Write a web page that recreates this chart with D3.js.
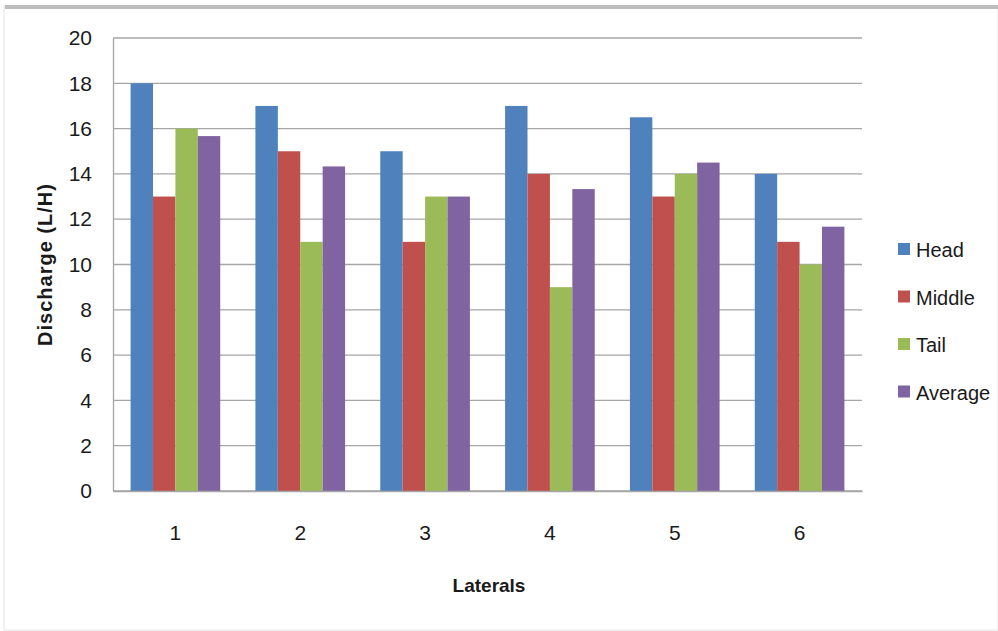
<!DOCTYPE html>
<html>
<head>
<meta charset="utf-8">
<script src="https://cdn.jsdelivr.net/npm/d3@7"></script>
<style>
  html, body { margin: 0; padding: 0; background: #fff; }
  svg text { font-family: "Liberation Sans", Arial, sans-serif; fill: #1a1a1a; }
</style>
</head>
<body>
<svg id="chart" width="998" height="631"></svg>
<script>
// Discharge per lateral, measured at head, middle and tail of each lateral
const laterals = ["1", "2", "3", "4", "5", "6"];
const seriesNames = ["Head", "Middle", "Tail", "Average"];
const head    = [18, 17, 15, 17, 16.5, 14];
const middle  = [13, 15, 11, 14, 13, 11];
const tail    = [16, 11, 13, 9, 14, 10];
const average = [15.67, 14.33, 13, 13.33, 14.5, 11.67];
const yTicks  = [0, 2, 4, 6, 8, 10, 12, 14, 16, 18, 20];
const colors  = ["#4F81BD", "#C0504D", "#9BBB59", "#8064A2"];

const seriesValues = [head, middle, tail, average];
const rows = laterals.map((lat, i) => ({
  lateral: lat,
  values: seriesNames.map((name, s) => ({ name, value: seriesValues[s][i] }))
}));

const svg = d3.select("#chart");
const W = 998, H = 631;

// outer frame with a shaded top edge
svg.append("rect").attr("x", 4).attr("y", 6).attr("width", W - 4).attr("height", 624)
  .attr("fill", "#fff").attr("stroke", "#e6e6e6").attr("stroke-width", 1);
svg.append("rect").attr("x", 5).attr("y", 5).attr("width", W - 5).attr("height", 4)
  .attr("fill", "#bdbdbd");

const plot = { left: 113, right: 862, top: 38, bottom: 491 };

const x0 = d3.scaleBand().domain(laterals).range([plot.left, plot.right]).paddingInner(0).paddingOuter(0);
const bandW = x0.bandwidth();
const barW = bandW / (4 + 1.57);
const x1 = d3.scaleBand().domain(seriesNames).range([0, barW * 4]);
const y = d3.scaleLinear().domain([0, 20]).range([plot.bottom, plot.top]);

// gridlines
svg.append("g")
  .selectAll("line").data(yTicks).join("line")
  .attr("x1", plot.left).attr("x2", plot.right)
  .attr("y1", d => y(d)).attr("y2", d => y(d))
  .attr("stroke", "#a6a6a6").attr("stroke-width", 1.3);

// bars
const groups = svg.append("g").selectAll("g").data(rows).join("g")
  .attr("transform", d => `translate(${x0(d.lateral) + (bandW - barW * 4) / 2},0)`);
groups.selectAll("rect").data(d => d.values).join("rect")
  .attr("x", d => x1(d.name))
  .attr("width", x1.bandwidth())
  .attr("y", d => y(d.value))
  .attr("height", d => y(0) - y(d.value))
  .attr("fill", (d, i) => colors[i]);

// y axis
const yAxis = svg.append("g").attr("transform", `translate(${plot.left},0)`)
  .call(d3.axisLeft(y).tickValues(yTicks).tickSize(0).tickPadding(21));
yAxis.select(".domain").attr("stroke", "#a6a6a6").attr("stroke-width", 1.3);
yAxis.selectAll("text").attr("font-size", 21).attr("fill", "#1a1a1a")
  .style("font-family", '"Liberation Sans", Arial, sans-serif');

// x axis
const xAxis = svg.append("g").attr("transform", `translate(0,${plot.bottom})`)
  .call(d3.axisBottom(x0).tickSize(0).tickPadding(34));
xAxis.select(".domain").attr("stroke", "#a6a6a6").attr("stroke-width", 1.3);
xAxis.selectAll("text").attr("font-size", 21).attr("fill", "#1a1a1a")
  .style("font-family", '"Liberation Sans", Arial, sans-serif');

// axis titles
svg.append("text")
  .attr("transform", `translate(52,${(plot.top + plot.bottom) / 2}) rotate(-90)`)
  .attr("text-anchor", "middle").attr("font-size", 20).attr("font-weight", "bold")
  .attr("letter-spacing", 1)
  .text("Discharge (L/H)");
svg.append("text")
  .attr("x", 489).attr("y", 592)
  .attr("text-anchor", "middle").attr("font-size", 19).attr("font-weight", "bold")
  .text("Laterals");

// legend
const legend = svg.append("g").attr("transform", "translate(898,243)");
const items = legend.selectAll("g").data(seriesNames).join("g")
  .attr("transform", (d, i) => `translate(0,${i * 47.5})`);
items.append("rect").attr("width", 12).attr("height", 12).attr("fill", (d, i) => colors[i]);
items.append("text").attr("x", 18).attr("y", 14).attr("font-size", 20).text(d => d);
</script>
</body>
</html>
